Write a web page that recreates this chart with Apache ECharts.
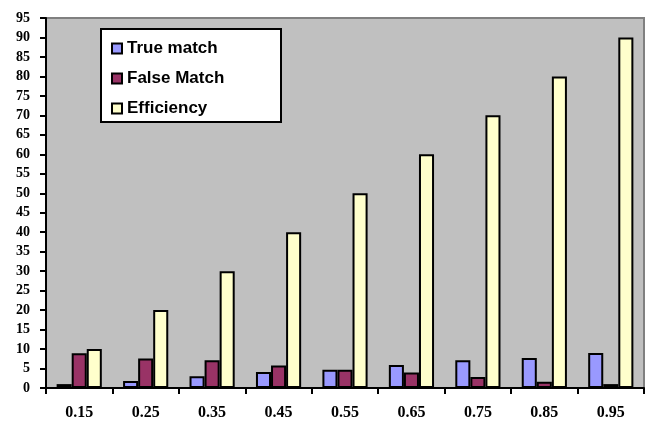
<!DOCTYPE html>
<html><head><meta charset="utf-8">
<script src="https://cdn.jsdelivr.net/npm/echarts@6/dist/echarts.min.js"></script>
<style>html,body{margin:0;padding:0;background:#fff}#c{width:654px;height:422px}</style>
</head><body><div id="c"></div>
<script>
const categories = ['0.15','0.25','0.35','0.45','0.55','0.65','0.75','0.85','0.95'];
const trueMatch = [1, 1.8, 3, 4.1, 4.7, 5.9, 7.1, 7.7, 9];
const falseMatch = [8.9, 7.6, 7.1, 5.8, 4.7, 4, 2.8, 1.6, 1];
const efficiency = [10, 20, 30, 40, 50, 60, 70, 80, 90];
const seriesNames = ['True match', 'False Match', 'Efficiency'];
const colors = ['#9999FF', '#993366', '#FFFFCC'];

const chart = echarts.init(document.getElementById('c'));
const mk = (name, data, color) => ({
  name, type: 'bar', data,
  barGap: '0%', barCategoryGap: '32%',
  itemStyle: { color, borderColor: '#000', borderWidth: 2 },
  emphasis: { disabled: true }
});
chart.setOption({
  animation: false,
  grid: { left: 46, right: 10, top: 18, bottom: 34, show: true,
          backgroundColor: '#C0C0C0', borderColor: '#808080', borderWidth: 2 },
  graphic: [{ type: 'rect', left: 100, top: 28, z: 90,
    shape: { width: 180, height: 93 },
    style: { fill: '#fff', stroke: '#000', lineWidth: 2 } }],
  legend: {
    orient: 'vertical', left: 106, top: 35, z: 100,
    itemWidth: 10, itemHeight: 10, itemGap: 13, icon: 'rect',
    textStyle: { fontFamily: 'Liberation Sans, Arial, sans-serif', fontWeight: 'bold', fontSize: 17, color: '#000' },
    data: seriesNames
  },
  xAxis: {
    type: 'category', data: categories,
    axisLine: { lineStyle: { color: '#000', width: 2 } },
    axisTick: { show: true, length: 6, lineStyle: { color: '#000', width: 2 } },
    axisLabel: { margin: 17, color: '#000', fontFamily: 'Liberation Serif, Times New Roman, serif', fontWeight: 'bold', fontSize: 16 }
  },
  yAxis: {
    type: 'value', min: 0, max: 95, interval: 5,
    splitLine: { show: false },
    axisLine: { show: true, lineStyle: { color: '#000', width: 2 } },
    axisTick: { show: true, length: 6, lineStyle: { color: '#000', width: 2 } },
    axisLabel: { margin: 16, color: '#000', fontFamily: 'Liberation Serif, Times New Roman, serif', fontWeight: 'bold', fontSize: 14 }
  },
  series: [
    mk(seriesNames[0], trueMatch, colors[0]),
    mk(seriesNames[1], falseMatch, colors[1]),
    mk(seriesNames[2], efficiency, colors[2])
  ]
});
</script></body></html>
